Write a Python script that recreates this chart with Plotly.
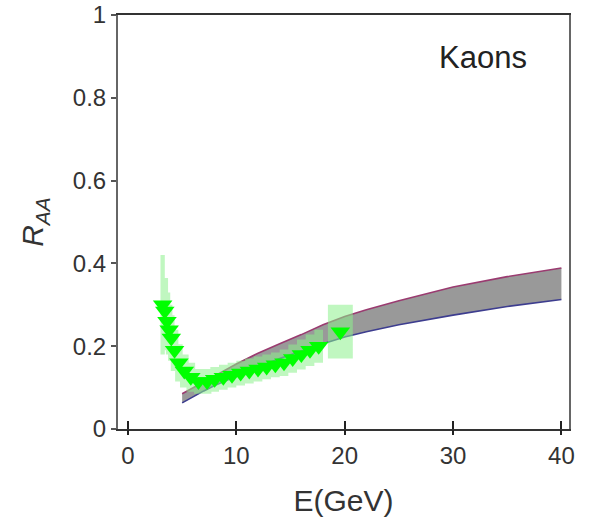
import plotly.graph_objects as go

# Theory band: upper and lower edges of R_AA vs E
band_e = [5, 6, 7, 8, 10, 12, 14, 16, 18, 20, 22, 25, 30, 35, 40]
band_upper = [0.085, 0.100, 0.114, 0.128, 0.157, 0.183, 0.206, 0.228, 0.252, 0.272, 0.288, 0.310, 0.343, 0.368, 0.389]
band_lower = [0.063, 0.078, 0.092, 0.105, 0.128, 0.150, 0.170, 0.188, 0.206, 0.222, 0.235, 0.252, 0.275, 0.296, 0.313]

# Measured kaon R_AA with systematic uncertainty boxes
kaon_e = [3.2, 3.4, 3.6, 3.8, 4.0, 4.3, 4.7, 5.2, 5.8, 6.5, 7.3, 8.0, 8.8, 9.6,
          10.4, 11.2, 12.0, 12.8, 13.6, 14.4, 15.2, 16.0, 16.8, 17.6, 19.6]
kaon_raa = [0.300, 0.285, 0.260, 0.240, 0.220, 0.190, 0.160, 0.140, 0.125, 0.115, 0.115, 0.120, 0.125, 0.130,
            0.135, 0.140, 0.145, 0.150, 0.155, 0.160, 0.170, 0.180, 0.190, 0.200, 0.235]
kaon_sys = [0.120, 0.080, 0.070, 0.060, 0.055, 0.050, 0.045, 0.040, 0.035, 0.030, 0.030, 0.030, 0.030, 0.030,
            0.030, 0.030, 0.030, 0.030, 0.030, 0.032, 0.034, 0.036, 0.038, 0.040, 0.065]
kaon_box_w = [0.4, 0.6, 0.6, 0.6, 0.6, 0.7, 0.7, 0.8, 0.8, 0.8, 0.8, 0.8, 0.8, 0.8,
              0.8, 0.8, 0.8, 0.8, 0.8, 0.8, 0.8, 0.8, 0.8, 0.8, 2.3]

x_ticks = [0, 10, 20, 30, 40]
y_ticks = [0, 0.2, 0.4, 0.6, 0.8, 1]
y_tick_text = ["0", "0.2", "0.4", "0.6", "0.8", "1"]

X_RANGE = [-0.92, 40.7]
fig = go.Figure()

fig.add_trace(go.Scatter(x=band_e, y=band_lower, mode="lines",
                         line=dict(color="#3d3d8f", width=1.6), showlegend=False))
fig.add_trace(go.Scatter(x=band_e, y=band_upper, mode="lines", fill="tonexty",
                         fillcolor="#999999",
                         line=dict(color="#9a3b70", width=1.6), showlegend=False))

# systematic boxes as one closed-polygon trace
bx, by = [], []
for e, r, s, w in zip(kaon_e, kaon_raa, kaon_sys, kaon_box_w):
    bx += [e - w / 2, e + w / 2, e + w / 2, e - w / 2, e - w / 2, None]
    by += [r - s, r - s, r + s, r + s, r - s, None]
fig.add_trace(go.Scatter(x=bx, y=by, mode="lines", fill="toself",
                         fillcolor="rgba(140,240,140,0.55)",
                         line=dict(width=0), showlegend=False, hoverinfo="skip"))

# markers sit on the overlay axis (same range) so it carries the outer tick stubs
fig.add_trace(go.Scatter(x=kaon_e, y=kaon_raa, mode="markers", xaxis="x2",
                         marker=dict(symbol="triangle-down", size=17, color="#00ff00",
                                     line=dict(width=0)),
                         showlegend=False))

font_main = "Liberation Sans, Arial, sans-serif"

fig.update_layout(
    width=590, height=522,
    margin=dict(l=118, r=21, t=15, b=93),
    plot_bgcolor="white", paper_bgcolor="white",
    font=dict(family=font_main, color="#333333"),
    xaxis=dict(range=X_RANGE, tickmode="array", tickvals=x_ticks,
               ticks="inside", ticklen=8, tickwidth=2, tickcolor="#222222",
               showline=True, linecolor="#333333", linewidth=2, mirror=True,
               showgrid=False, zeroline=False, automargin=False,
               tickfont=dict(size=24, color="#333333"), ticklabelstandoff=4,
               title=dict(text="E(GeV)", font=dict(size=30, color="#333333"), standoff=22)),
    xaxis2=dict(range=X_RANGE, overlaying="x", side="bottom", tickmode="array",
                tickvals=x_ticks, ticks="outside", ticklen=5, tickwidth=2, tickcolor="#222222",
                showticklabels=False, showline=False, showgrid=False, zeroline=False,
                automargin=False),
    yaxis=dict(range=[0, 1], tickmode="array", tickvals=y_ticks, ticktext=y_tick_text,
               ticks="outside", ticklen=5, tickwidth=2, tickcolor="#555555",
               showline=True, linecolor="#666666", linewidth=2, mirror=True,
               showgrid=False, zeroline=False, automargin=False,
               tickfont=dict(size=24, color="#333333"),
               title=dict(text="<i>R<sub>AA</sub></i>", font=dict(size=30, color="#333333"),
                          standoff=20)),
    annotations=[dict(text="Kaons", xref="paper", yref="paper",
                      x=(483 - 118) / 451, y=(429 - 57) / 414,
                      xanchor="center", yanchor="middle",
                      showarrow=False, font=dict(size=31, color="#222222"))],
)

fig.write_html("out.html")
